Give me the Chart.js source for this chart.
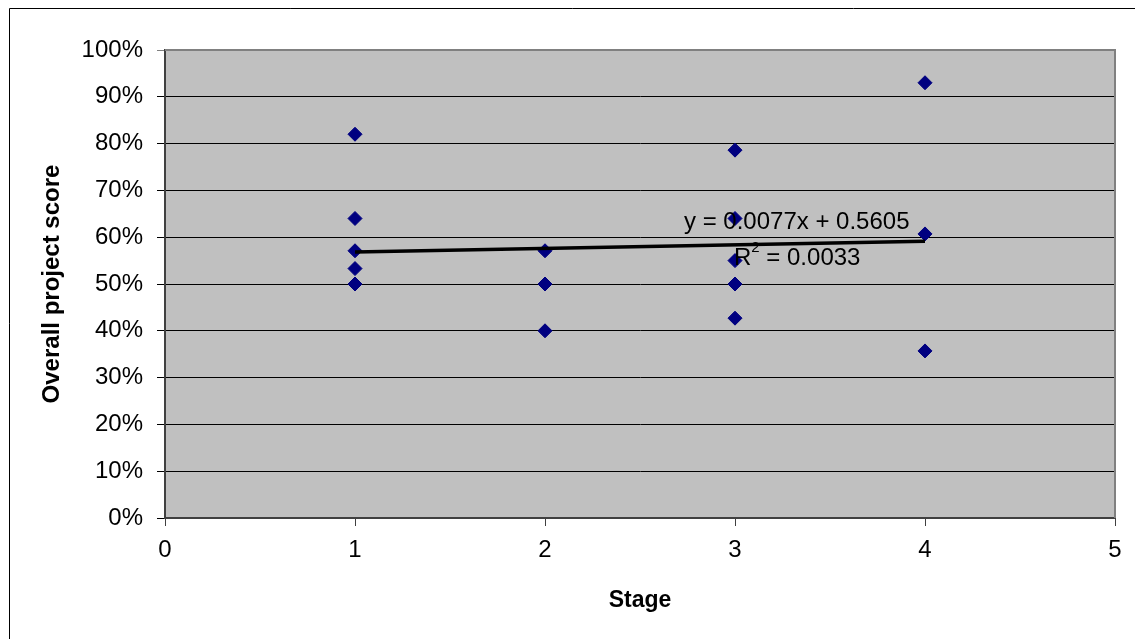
<!DOCTYPE html>
<html>
<head>
<meta charset="utf-8">
<script src="https://cdn.jsdelivr.net/npm/chart.js@4.4.1/dist/chart.umd.min.js"></script>
<style>
  html, body { margin: 0; padding: 0; background: #fff; }
  #wrap { width: 1135px; height: 639px; }
</style>
</head>
<body>
<div id="wrap"><canvas id="myScatter" width="1135" height="639"></canvas></div>
<script>
// values
const stages = [1, 1, 1, 1, 1, 2, 2, 2, 3, 3, 3, 3, 3, 4, 4, 4];
const scores = [0.82, 0.64, 0.571, 0.533, 0.50, 0.571, 0.50, 0.40, 0.786, 0.64, 0.55, 0.50, 0.427, 0.93, 0.607, 0.357];
const xTicks = [0, 1, 2, 3, 4, 5];
const yTicks = [0, 0.1, 0.2, 0.3, 0.4, 0.5, 0.6, 0.7, 0.8, 0.9, 1.0];
// linear trend shown on the chart
const trendX = [1, 4];
const trendSlope = 0.0077;
const trendIntercept = 0.5605;
const trendText = ['y = 0.0077x + 0.5605', 'R', '2', ' = 0.0033'];

const FONT = '"Liberation Sans", Arial, sans-serif';

const points = stages.map((s, i) => ({ x: s, y: scores[i] }));
const trend = trendX.map(x => ({ x: x, y: trendSlope * x + trendIntercept }));

// white page, outer frame and grey plot area
const frame = {
    id: 'frame',
    beforeDraw(chart) {
        const c = chart.ctx;
        const a = chart.chartArea;
        c.save();
        c.fillStyle = '#fff';
        c.fillRect(0, 0, chart.width, chart.height);
        c.strokeStyle = '#000';
        c.lineWidth = 1;
        c.beginPath();
        c.moveTo(9.5, chart.height);
        c.lineTo(9.5, 8.5);
        c.lineTo(chart.width, 8.5);
        c.stroke();
        c.fillStyle = '#c0c0c0';
        c.fillRect(a.left, a.top, a.right - a.left, a.bottom - a.top);
        c.restore();
    },
    beforeDatasetsDraw(chart) {
        const c = chart.ctx;
        const a = chart.chartArea;
        c.save();
        c.strokeStyle = '#808080';
        c.lineWidth = 2;
        c.beginPath();
        c.moveTo(a.left, a.top);
        c.lineTo(a.right, a.top);
        c.lineTo(a.right, a.bottom);
        c.stroke();
        c.restore();
    },
    afterDatasetsDraw(chart) {
        // trendline equation, placed in data units
        const c = chart.ctx;
        const xs = chart.scales.x, ys = chart.scales.y;
        c.save();
        c.fillStyle = '#000';
        c.font = '24px ' + FONT;
        c.textBaseline = 'middle';
        c.textAlign = 'center';
        c.fillText(trendText[0], xs.getPixelForValue(3.325), ys.getPixelForValue(0.631));
        c.textAlign = 'left';
        let x0 = xs.getPixelForValue(3.0) - 1;
        const y0 = ys.getPixelForValue(0.555);
        c.fillText(trendText[1], x0, y0);
        x0 += c.measureText(trendText[1]).width;
        c.font = '15px ' + FONT;
        c.fillText(trendText[2], x0, y0 - 10);
        x0 += c.measureText(trendText[2]).width;
        c.font = '24px ' + FONT;
        c.fillText(trendText[3], x0, y0);
        c.restore();
    }
};

const ctx = document.getElementById('myScatter').getContext('2d');
const myScatter = new Chart(ctx, {
    type: 'scatter',
    data: {
        datasets: [{
            data: points,
            pointStyle: 'rectRot',
            pointRadius: 7,
            pointBackgroundColor: '#000080',
            pointBorderColor: '#000080',
            pointBorderWidth: 1,
            order: 2
        }, {
            type: 'line',
            data: trend,
            borderColor: '#000',
            borderWidth: 3.5,
            pointRadius: 0,
            fill: false,
            order: 1
        }]
    },
    options: {
        responsive: false,
        animation: false,
        layout: { padding: { left: 10, right: 20, top: 50, bottom: 0 } },
        plugins: { legend: { display: false }, tooltip: { enabled: false } },
        scales: {
            x: {
                type: 'linear',
                min: 0, max: 5,
                afterBuildTicks: s => { s.ticks = xTicks.map(v => ({ value: v })); },
                afterFit: s => { s.height = 121; },
                grid: { drawOnChartArea: false, drawTicks: true, tickLength: 8, color: '#404040' },
                border: { color: '#404040', width: 2 },
                ticks: { color: '#000', font: { family: FONT, size: 24 }, padding: 10, maxRotation: 0 },
                title: { display: true, text: 'Stage', color: '#000', font: { family: FONT, size: 23, weight: 'bold' }, padding: { top: 0, bottom: 25 } }
            },
            y: {
                min: 0, max: 1,
                afterBuildTicks: s => { s.ticks = yTicks.map(v => ({ value: v })); },
                afterFit: s => { s.width = 155; },
                grid: {
                    drawTicks: true, tickLength: 8,
                    color: c => (c.tick && c.tick.value === 1) ? '#808080' : '#000',
                    lineWidth: 1
                },
                border: { color: '#404040', width: 2 },
                ticks: {
                    color: '#000', font: { family: FONT, size: 24 }, padding: 14,
                    callback: v => Math.round(v * 100) + '%'
                },
                title: { display: true, text: 'Overall project score', color: '#000', font: { family: FONT, size: 24, weight: 'bold' }, padding: { top: 28, bottom: 0 } }
            }
        }
    },
    plugins: [frame]
});
</script>
</body>
</html>
